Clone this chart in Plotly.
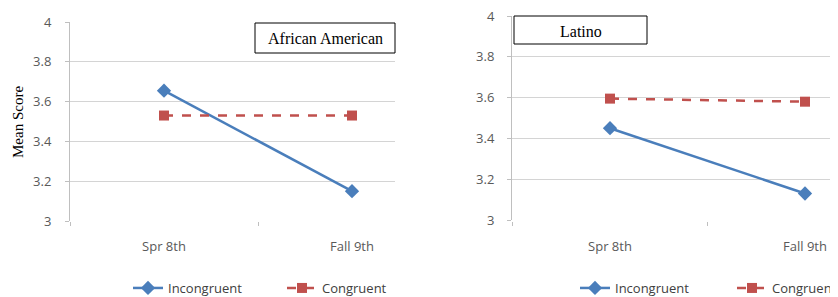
import plotly.graph_objects as go

# Screen size of the reference and the browser's default body margin
SW, SH = 838, 297
OFF = 8
W, H = SW - OFF, SH - OFF

categories = ["Spr 8th", "Fall 9th"]
aa_incongruent = [3.655, 3.15]
aa_congruent = [3.53, 3.53]
lat_incongruent = [3.45, 3.13]
lat_congruent = [3.595, 3.58]
y_ticks = [3, 3.2, 3.4, 3.6, 3.8, 4]
y_ticktext = ["3", "3.2", "3.4", "3.6", "3.8", "4"]

BLUE = "#4a7ebb"
RED = "#c0504d"
GRID = "#d4d4d4"
TICKC = "#595959"


def px_x(p):
    return (p - OFF) / W


def px_y(p):
    return 1 - (p - OFF) / H


fig = go.Figure()


def add_series(xa, ya, inc, con, leg_inc, leg_con):
    fig.add_trace(go.Scatter(
        x=categories, y=inc, name="Incongruent", mode="lines+markers",
        line=dict(color=BLUE, width=2.5),
        marker=dict(symbol="diamond", size=11, color=BLUE),
        xaxis=xa, yaxis=ya, legend=leg_inc, showlegend=True))
    fig.add_trace(go.Scatter(
        x=categories, y=con, name="Congruent", mode="lines+markers",
        line=dict(color=RED, width=2.5, dash="dash"),
        marker=dict(symbol="square", size=10, color=RED),
        xaxis=xa, yaxis=ya, legend=leg_con, showlegend=True))


add_series("x", "y", aa_incongruent, aa_congruent, "legend", "legend2")
add_series("x2", "y2", lat_incongruent, lat_congruent, "legend3", "legend4")

tickfont = dict(family="Open Sans, Liberation Sans, sans-serif", size=13, color=TICKC)


def xaxis(domain, rng):
    return dict(domain=domain, range=rng, type="category",
                categoryorder="array", categoryarray=categories,
                showgrid=False, zeroline=False, showline=False,
                ticks="outside", tickson="boundaries", ticklen=4,
                tickcolor="#bfbfbf", tickfont=tickfont,
                ticklabelstandoff=16, ticklabeloverflow="allow",
                fixedrange=True, automargin=False)


def yaxis(domain, anchor, standoff):
    return dict(domain=domain, range=[3, 4], anchor=anchor,
                tickvals=y_ticks, ticktext=y_ticktext,
                showgrid=True, gridcolor=GRID, gridwidth=1.2,
                zeroline=False, showline=True, linecolor="#bfbfbf",
                ticks="outside", ticklen=4, tickcolor="#bfbfbf",
                tickfont=tickfont, ticklabelstandoff=standoff,
                ticklabeloverflow="allow", fixedrange=True,
                automargin=False)


# Left panel: plot area 70..395 px, categories at 164 and 352
l_left, l_right, l_c0, l_c1 = 70, 395, 164, 352
l_step = l_c1 - l_c0
l_range = [(l_left - l_c0) / l_step, (l_right - l_c0) / l_step]
# Right panel: plot area 512..838 px, categories at 610 and 805
r_left, r_right, r_c0, r_c1 = 512, 838, 610, 805
r_step = r_c1 - r_c0
r_range = [(r_left - r_c0) / r_step, (r_right - r_c0) / r_step]

legfont = dict(family="Open Sans, sans-serif", size=13, color="#404040")


def leg(xpix):
    return dict(orientation="h", x=px_x(xpix), y=px_y(288), yanchor="middle",
                xanchor="left", font=legfont, bgcolor="rgba(0,0,0,0)",
                borderwidth=0)


fig.update_layout(
    width=W, height=H,
    margin=dict(l=0, r=0, t=0, b=0, autoexpand=False),
    paper_bgcolor="white", plot_bgcolor="white",
    xaxis=xaxis([px_x(l_left), px_x(l_right)], l_range),
    yaxis=yaxis([px_y(221), px_y(22)], "x", 11),
    xaxis2=xaxis([px_x(r_left), min(1, px_x(r_right))], r_range),
    yaxis2=yaxis([px_y(220), px_y(16)], "x2", 10),
    legend=leg(128),
    legend2=leg(282),
    legend3=leg(575),
    legend4=leg(732),
    showlegend=True,
)

serif = "Liberation Serif, Times New Roman, serif"
shapes = [
    dict(type="rect", xref="paper", yref="paper",
         x0=px_x(255), x1=px_x(395), y0=px_y(53), y1=px_y(23),
         line=dict(color="black", width=1), fillcolor="white", layer="above"),
    dict(type="rect", xref="paper", yref="paper",
         x0=px_x(514), x1=px_x(647), y0=px_y(44), y1=px_y(16),
         line=dict(color="black", width=1), fillcolor="white", layer="above"),
]
fig.update_layout(shapes=shapes)
fig.add_annotation(text="African American", xref="paper", yref="paper",
                   x=px_x(325), y=px_y(38.5), xanchor="center", yanchor="middle",
                   showarrow=False, font=dict(family=serif, size=16, color="black"))
fig.add_annotation(text="Latino", xref="paper", yref="paper",
                   x=px_x(581), y=px_y(31), xanchor="center", yanchor="middle",
                   showarrow=False, font=dict(family=serif, size=16, color="black"))
fig.add_annotation(text="Mean Score", xref="paper", yref="paper",
                   x=px_x(18), y=px_y(122), xanchor="center", yanchor="middle",
                   showarrow=False, textangle=-90,
                   font=dict(family=serif, size=15, color="black"))

fig.write_html("out.html")
